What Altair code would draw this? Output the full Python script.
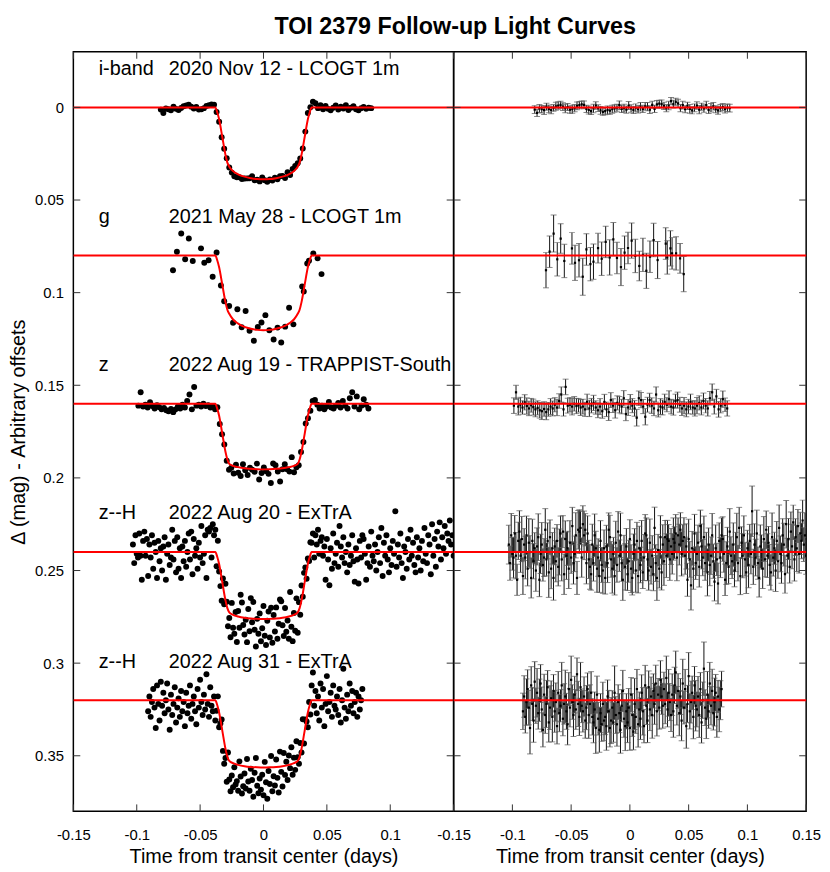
import altair as alt
import numpy as np
import pandas as pd

FONT = "Liberation Sans"

# ---------------- data ----------------
OFFSETS = [0.0, 0.08, 0.16, 0.24, 0.32]
BANDS = ["i-band", "g", "z", "z--H", "z--H"]
NIGHTS = ["2020 Nov 12 - LCOGT 1m", "2021 May 28 - LCOGT 1m",
          "2022 Aug 19 - TRAPPIST-South", "2022 Aug 20 - ExTrA", "2022 Aug 31 - ExTrA"]
X_TICKS = [-0.15, -0.1, -0.05, 0, 0.05, 0.1, 0.15]
Y_TICKS = [0, 0.05, 0.1, 0.15, 0.2, 0.25, 0.3, 0.35]

# transit model (days, depth in mag)
MODEL_T = [-0.15, -0.038, -0.0365, -0.035, -0.0325, -0.030, -0.0285, -0.027, -0.024, -0.020,
           -0.015, -0.010, -0.005, 0.0, 0.005, 0.010, 0.015, 0.020, 0.024, 0.027,
           0.0285, 0.030, 0.0325, 0.035, 0.0365, 0.038, 0.15]
MODEL_I = [0, 0, .0026, .0064, .0160, .0256, .0298, .0320, .0344, .0361, .0374, .0382, .0387, .0388,
           .0387, .0382, .0374, .0361, .0344, .0320, .0298, .0256, .0160, .0064, .0026, 0, 0]
MODEL_G = [0, 0, .0025, .0063, .0157, .0251, .0292, .0314, .0345, .0367, .0385, .0395, .0401, .0403,
           .0401, .0395, .0385, .0367, .0345, .0314, .0292, .0251, .0157, .0063, .0025, 0, 0]
MODEL_Z = [0, 0, .0026, .0065, .0162, .0259, .0301, .0324, .0335, .0342, .0348, .0351, .0353, .0354,
           .0353, .0351, .0348, .0342, .0335, .0324, .0301, .0259, .0162, .0065, .0026, 0, 0]
MODEL_A20 = [0, 0, .0026, .0065, .0163, .0261, .0303, .0326, .0339, .0348, .0355, .0359, .0361, .0362,
             .0361, .0359, .0355, .0348, .0339, .0326, .0303, .0261, .0163, .0065, .0026, 0, 0]
MODEL_A31 = [0, 0, .0026, .0066, .0164, .0262, .0305, .0328, .0340, .0349, .0356, .0360, .0362, .0363,
             .0362, .0360, .0356, .0349, .0340, .0328, .0305, .0262, .0164, .0066, .0026, 0, 0]

# times in 1e-3 d, residuals and errors in 1e-4 mag
I_T = [-81, -79, -77, -75, -73, -71, -69, -67, -65, -63,
       -61, -59, -57, -55, -53, -51, -49, -47, -45, -43,
       -41, -39, -37, -35, -33, -31, -29, -27, -25, -23,
       -21, -19, -17, -15, -13, -11, -9, -7, -5, -3,
       -1, 1, 3, 5, 7, 9, 11, 13, 15, 17,
       19, 21, 23, 25, 27, 29, 31, 33, 35, 37,
       39, 41, 43, 45, 47, 49, 51, 53, 55, 57,
       59, 61, 63, 65, 67, 69, 71, 73, 75, 77,
       79, 81, 83, 85]
I_R = [12, 30, 6, 10, 15, -4, 8, 14, 3, -6,
       -10, -14, -4, 6, -2, 12, 10, 4, -8, -12,
       -16, -14, 8, 14, 20, 6, -10, 4, 16, 24,
       20, 14, 18, 10, 6, 2, -12, 8, 4, 12,
       -10, 6, 14, 2, 10, -4, 8, -6, -4, 12,
       -14, 8, -16, -20, -18, -8, 4, -10, -34, -18,
       -30, -22, 4, -12, 10, -8, 8, 16, 2, -10,
       12, -4, 6, -12, 14, 2, -6, 10, 16, 4,
       -2, 8, 2, 4]
I_E = [21, 19, 22, 20, 23, 19, 21, 20, 18, 22,
       20, 19, 21, 23, 19, 20, 22, 19, 21, 20,
       19, 21, 20, 22, 19, 23, 20, 18, 21, 19,
       20, 22, 19, 21, 20, 19, 23, 20, 21, 19,
       22, 20, 19, 21, 20, 23, 19, 20, 22, 21,
       19, 20, 21, 19, 22, 20, 19, 23, 20, 21,
       19, 22, 20, 21, 19, 20, 23, 19, 21, 20,
       22, 19, 20, 21, 19, 23, 20, 19, 21, 20,
       19, 22, 20, 21]

G_T = [-71.4, -68.3, -64.9, -61.8, -58.9, -55.8, -49.3, -46.7, -43.3, -40.1,
       -37.0, -33.6, -31.0, -27.1, -24.0, -20.6, -17.2, -14.1, -11.0, -7.6,
       -4.5, -1.6, 1.5, 4.6, 8.0, 11.1, 14.0, 17.1, 20.2, 23.6,
       30.5, 31.8, 34.5, 35.9, 39.3, 42.7, 45.8]
G_R = [79, -21, -119, 20, -92, 29, -39, 39, 25, 114,
       -33, 46, 33, -40, 17, -74, 10, -88, 13, 62,
       -16, -41, -81, 2, 56, -4, 82, 6, -84, 24,
       -65, 10, -39, -12, -12, 15, 100]
G_E = [95, 85, 100, 90, 80, 90, 85, 95, 90, 100,
       85, 90, 95, 80, 90, 85, 95, 90, 85, 100,
       90, 85, 95, 90, 80, 90, 95, 85, 90, 100,
       85, 90, 95, 85, 90, 80, 95]

Z_T = [-98.7, -96.9, -95.0, -93.2, -91.4, -89.5, -87.7, -85.9, -84.0, -82.2,
       -80.4, -78.5, -76.7, -74.9, -73.0, -71.2, -69.4, -67.5, -65.7, -63.9,
       -62.0, -60.2, -58.4, -56.5, -54.7, -52.9, -51.0, -49.2, -47.4, -45.5,
       -43.7, -41.9, -40.0, -38.2, -36.4, -34.5, -32.7, -30.9, -29.0, -27.2,
       -25.4, -23.5, -21.7, -19.9, -18.0, -16.2, -14.4, -12.5, -10.7, -8.9,
       -7.0, -5.2, -3.4, -1.5, 0.3, 2.1, 4.0, 5.8, 7.6, 9.5,
       11.3, 13.1, 15.0, 16.8, 18.6, 20.5, 22.3, 24.1, 26.0, 27.8,
       29.6, 31.5, 33.3, 35.1, 37.0, 38.8, 40.6, 42.5, 44.3, 46.1,
       48.0, 49.8, 51.6, 53.5, 55.3, 57.1, 59.0, 60.8, 62.6, 64.5,
       66.3, 68.1, 70.0, 71.8, 73.6, 75.5, 77.3, 79.1, 81.0, 82.8]
Z_R = [10, -62, 15, 5, 20, -8, 12, 25, 8, 18,
       30, 22, 35, 40, 28, 45, 30, 15, 25, 5,
       20, -15, -50, 30, -91, 10, 5, 15, 0, 12,
       8, 20, 15, 30, -10, 25, 10, -5, 20, 35,
       15, 40, -10, 30, 45, -20, 10, 35, -5, 5,
       15, -30, 55, 20, -10, 10, 25, 75, -30, -20,
       15, 70, 5, -20, 10, 25, -50, 35, 15, 20,
       -10, 5, -25, 15, 20, -15, -20, 5, 25, 10,
       30, 15, -10, 20, 25, 10, -5, 20, -15, 10,
       25, -30, -62, 15, -40, 30, 10, -25, 5, 25]
Z_E = [42, 38, 45, 40, 36, 41, 44, 39, 37, 43,
       40, 38, 42, 45, 39, 41, 37, 43, 40, 38,
       44, 39, 41, 36, 42, 40, 38, 45, 39, 41,
       37, 43, 40, 38, 42, 44, 39, 41, 36, 40,
       43, 38, 41, 39, 45, 40, 37, 42, 38, 44,
       39, 41, 36, 43, 40, 38, 42, 45, 39, 41,
       38, 44, 40, 37, 42, 39, 41, 36, 43, 40,
       42, 38, 45, 39, 41, 37, 43, 40, 38, 44,
       40, 39, 42, 36, 41, 44, 38, 40, 43, 39,
       41, 37, 45, 40, 38, 42, 39, 44, 36, 41]

A20_T = [-103, -102, -101, -100, -99, -98, -97, -96, -95, -94,
         -93, -92, -91, -90, -89, -88, -87, -86, -85, -84,
         -83, -82, -81, -80, -79, -78, -77, -76, -75, -74,
         -73, -72, -71, -70, -69, -68, -67, -66, -65, -64,
         -63, -62, -61, -60, -59, -58, -57, -56, -55, -54,
         -53, -52, -51, -50, -49, -48, -47, -46, -45, -44,
         -43, -42, -41, -40, -39, -38, -37, -36, -35, -34,
         -33, -32, -31, -30, -29, -28, -27, -26, -25, -24,
         -23, -22, -21, -20, -19, -18, -17, -16, -15, -14,
         -13, -12, -11, -10, -9, -8, -7, -6, -5, -4,
         -3, -2, -1, 0, 1, 2, 3, 4, 5, 6,
         7, 8, 9, 10, 11, 12, 13, 14, 15, 16,
         17, 18, 19, 20, 21, 22, 23, 24, 25, 26,
         27, 28, 29, 30, 31, 32, 33, 34, 35, 36,
         37, 38, 39, 40, 41, 42, 43, 44, 45, 46,
         47, 48, 49, 50, 51, 52, 53, 54, 55, 56,
         57, 58, 59, 60, 61, 62, 63, 64, 65, 66,
         67, 68, 69, 70, 71, 72, 73, 74, 75, 76,
         77, 78, 79, 80, 81, 82, 83, 84, 85, 86,
         87, 88, 89, 90, 91, 92, 93, 94, 95, 96,
         97, 98, 99, 100, 101, 102, 103, 104, 105, 106,
         107, 108, 109, 110, 111, 112, 113, 114, 115, 116,
         117, 118, 119, 120, 121, 122, 123, 124, 125, 126,
         127, 128, 129, 130, 131, 132, 133, 134, 135, 136,
         137, 138, 139, 140, 141, 142, 143, 144, 145, 146,
         147, 148, 149, 150]
A20_R = [-40, 60, -90, 10, 30, -100, 20, 150, -60, -110,
         20, -70, 130, -40, 30, -90, 90, -50, 0, 140,
         -60, 50, -20, 100, -30, -80, 150, 10, -40, 70,
         30, -120, 40, -60, 110, -80, 90, -20, 140, -30,
         50, -60, 80, 0, -100, 40, -110, 120, -70, 20,
         -20, 90, -50, 30, -140, 60, 10, -90, 140, -120,
         -110, -130, 30, -150, -90, -120, 60, -100, 40, 80,
         120, -40, 60, -90, -20, 90, 30, 130, -60, 70,
         100, -20, 140, -30, 60, -120, -80, 40, 90, 10,
         130, -50, 70, -110, 20, -90, 60, 150, 0, 80,
         -30, 120, 50, -70, 90, 140, 10, -40, 100, -60,
         130, -20, 70, -60, 110, 30, -100, -90, 40, 100,
         -50, 80, 20, 120, -130, 60, 140, -10, 90, -80,
         110, -40, 50, -80, 20, -70, -60, 40, -30, 10,
         -70, -50, -100, 30, -90, -40, -120, 10, -60, -80,
         20, -30, 150, -70, 40, 180, -20, 90, -100, 60,
         10, -50, 80, -140, -30, 30, -80, 60, 0, 110,
         -40, 70, 20, -90, 50, 160, -20, 40, 170, -60,
         30, -90, -70, 10, 150, 60, -30, 80, -110, 20,
         50, -40, 100, 0, -80, 60, -130, 130, -50, 20,
         -90, 40, 110, -20, 70, -60, 10, -220, 80, -40,
         30, -100, 60, 140, -30, 0, 90, -70, 40, -120,
         20, -50, 70, 110, -80, 30, -20, 100, -60, 50,
         -130, 10, 60, -90, -40, 120, -150, 20, -70, 80,
         -110, -30, -160, 40, -80, -20, -140, 10, -100, -60,
         -170, -40, -90, 20]
A20_E = [105, 92, 118, 88, 110, 97, 125, 84, 101, 113,
         90, 122, 99, 86, 115, 104, 93, 130, 88, 108,
         117, 95, 84, 112, 100, 126, 91, 106, 119, 87,
         102, 114, 89, 97, 135, 93, 108, 85, 120, 99,
         111, 88, 103, 124, 94, 116, 86, 109, 98, 128,
         92, 107, 119, 85, 101, 113, 96, 122, 89, 104,
         118, 90, 106, 99, 131, 87, 112, 95, 103, 121,
         86, 110, 97, 115, 92, 127, 101, 88, 109, 94,
         123, 99, 87, 114, 105, 91, 118, 96, 132, 89,
         102, 116, 93, 108, 85, 120, 98, 111, 90, 125,
         97, 88, 113, 104, 129, 92, 107, 86, 117, 100,
         91, 119, 96, 110, 87, 124, 102, 94, 115, 106,
         128, 93, 108, 89, 112, 99, 121, 85, 104, 116,
         95, 107, 130, 90, 118, 101, 88, 113, 97, 109,
         114, 86, 102, 125, 94, 110, 92, 119, 87, 105,
         100, 122, 89, 107, 96, 133, 91, 111, 103, 88,
         117, 95, 109, 86, 121, 98, 114, 93, 106, 127,
         89, 112, 101, 118, 92, 104, 126, 87, 110, 97,
         108, 94, 120, 99, 85, 115, 103, 91, 124, 102,
         93, 117, 88, 106, 129, 96, 111, 100, 86, 119,
         105, 90, 114, 97, 123, 89, 108, 136, 95, 112,
         99, 126, 87, 103, 116, 92, 107, 121, 94, 101,
         118, 88, 110, 95, 131, 100, 86, 113, 105, 92,
         124, 97, 109, 90, 115, 102, 128, 94, 111, 87,
         106, 120, 93, 117, 99, 125, 89, 104, 114, 96,
         110, 91, 122, 100]

A31_T = [-91, -90, -89, -88, -87, -86, -85, -84, -83, -82,
         -81, -80, -79, -78, -77, -76, -75, -74, -73, -72,
         -71, -70, -69, -68, -67, -66, -65, -64, -63, -62,
         -61, -60, -59, -58, -57, -56, -55, -54, -53, -52,
         -51, -50, -49, -48, -47, -46, -45, -44, -43, -42,
         -41, -40, -39, -38, -37, -36, -35, -34, -33, -32,
         -31, -30, -29, -28, -27, -26, -25, -24, -23, -22,
         -21, -20, -19, -18, -17, -16, -15, -14, -13, -12,
         -11, -10, -9, -8, -7, -6, -5, -4, -3, -2,
         -1, 0, 1, 2, 3, 4, 5, 6, 7, 8,
         9, 10, 11, 12, 13, 14, 15, 16, 17, 18,
         19, 20, 21, 22, 23, 24, 25, 26, 27, 28,
         29, 30, 31, 32, 33, 34, 35, 36, 37, 38,
         39, 40, 41, 42, 43, 44, 45, 46, 47, 48,
         49, 50, 51, 52, 53, 54, 55, 56, 57, 58,
         59, 60, 61, 62, 63, 64, 65, 66, 67, 68,
         69, 70, 71, 72, 73, 74, 75, 76, 77, 78]
A31_R = [60, -20, 90, 10, -60, 40, 150, -80, 20, 110,
         -100, 30, -40, 70, 0, -90, 50, 160, -30, 80,
         20, -70, 120, 40, -10, 90, -50, 60, 10, 140,
         -40, 70, 30, -80, 100, 20, -20, 60, 130, -60,
         40, -110, 10, 80, -30, 50, -140, 20, 90, -70,
         30, 60, -20, 110, 40, -60, 80, 20, -40, 90,
         120, 50, 150, -30, 100, 160, 70, 130, 20, 110,
         90, 140, -20, 60, 150, 110, 40, 120, -40, 80,
         130, 10, 70, 160, 30, -50, 100, 140, 60, 120,
         40, 150, -30, 80, 170, 20, 90, -60, 130, 50,
         100, -40, 60, 140, -80, 30, 110, -70, 50, -20,
         80, -50, 20, -90, 60, -30, 40, -110, -20, 30,
         -60, 20, -120, 50, -40, 10, 80, -30, 60, -80,
         -150, 30, -50, 70, -20, 110, -90, 40, -60, 140,
         20, -130, 60, 10, -40, 90, -80, 30, 50, -20,
         80, -60, 120, 0, -170, 40, 100, -30, 60, -90,
         30, -50, 70, 10, -40, 90, -20, 50, 0, -60]
A31_E = [98, 112, 87, 125, 104, 93, 140, 101, 89, 117,
         108, 95, 131, 86, 114, 102, 121, 92, 110, 99,
         127, 90, 106, 118, 94, 135, 88, 113, 103, 96,
         115, 100, 87, 124, 92, 109, 142, 97, 111, 89,
         104, 128, 93, 116, 99, 107, 88, 122, 101, 134,
         91, 112, 106, 95, 119, 87, 126, 103, 114, 98,
         110, 94, 137, 100, 88, 121, 105, 92, 117, 108,
         96, 130, 89, 113, 102, 124, 91, 107, 145, 99,
         118, 93, 105, 126, 87, 111, 100, 132, 95, 109,
         103, 120, 92, 115, 98, 138, 89, 106, 123, 94,
         112, 97, 128, 90, 108, 101, 119, 88, 114, 105,
         125, 92, 110, 99, 133, 87, 116, 103, 96, 121,
         91, 107, 118, 94, 126, 100, 89, 112, 140, 98,
         115, 104, 93, 122, 97, 109, 131, 88, 106, 119,
         100, 127, 95, 113, 90, 118, 102, 136, 94, 108,
         121, 89, 111, 98, 144, 96, 107, 125, 92, 114,
         103, 117, 91, 129, 99, 110, 87, 120, 105, 96]

SETS = [(I_T, I_R, I_E, MODEL_I), (G_T, G_R, G_E, MODEL_G), (Z_T, Z_R, Z_E, MODEL_Z),
        (A20_T, A20_R, A20_E, MODEL_A20), (A31_T, A31_R, A31_E, MODEL_A31)]

# ---------------- tables ----------------
pts, mods = [], []
for k, (tt, rr, ee, md) in enumerate(SETS):
    n = min(len(tt), len(rr), len(ee))
    t = np.array(tt[:n], dtype=float) / 1000.0
    r = np.array(rr[:n], dtype=float) / 1e4
    e = np.array(ee[:n], dtype=float) / 1e4
    m = np.interp(t, MODEL_T, md)
    off = OFFSETS[k]
    for i in range(n):
        pts.append({"set": k, "t": t[i], "mag": off + m[i] + r[i],
                    "res": off + r[i], "lo": off + r[i] - e[i], "hi": off + r[i] + e[i]})
    for tm, dm in zip(MODEL_T, md):
        mods.append({"set": k, "t": tm, "mag": off + dm})
pts = pd.DataFrame(pts)
mods = pd.DataFrame(mods)
labels = pd.DataFrame({"off": OFFSETS, "band": BANDS, "night": NIGHTS})
xt = pd.DataFrame({"v": X_TICKS})
yt = pd.DataFrame({"v": Y_TICKS})

# ---------------- encodings ----------------
W1, W2, H = 384, 356, 767
TK = 7

def xaxis(hide_last):
    expr = "datum.value >= 0.149 ? '' : '' + datum.value" if hide_last else "'' + datum.value"
    return alt.Axis(values=X_TICKS, labelExpr=expr, ticks=False, domain=False,
                    grid=False, labelFontSize=15, labelFont=FONT, labelColor="black",
                    labelPadding=16, labelOverlap=False, labelFlush=False,
                    title="Time from transit center (days)", titleFont=FONT, titleFontSize=20,
                    titleFontWeight="normal", titleColor="black", titlePadding=5)

YAX_L = alt.Axis(values=Y_TICKS, labelExpr="'' + datum.value", ticks=False, domain=False,
                 grid=False, labelFontSize=15, labelFont=FONT, labelColor="black",
                 labelPadding=10, labelOverlap=False,
                 title="Δ (mag) - Arbitrary offsets", titleFont=FONT, titleFontSize=20,
                 titleFontWeight="normal", titleColor="black", titlePadding=6)

def make_X(hide_last):
    def X(f):
        return alt.X(f, type="quantitative",
                     scale=alt.Scale(domain=[-0.15, 0.15], nice=False, zero=False),
                     axis=xaxis(hide_last))
    return X

def Y(f, axis):
    return alt.Y(f, type="quantitative",
                 scale=alt.Scale(domain=[-0.03, 0.38], reverse=True, nice=False, zero=False),
                 axis=axis)

def tick_layers(X, yax, w):
    b = alt.Chart(xt).mark_rule(color="#333", strokeWidth=1).encode(
        x=X("v"), y=alt.value(H), y2=alt.value(H - TK))
    t = alt.Chart(xt).mark_rule(color="#333", strokeWidth=1).encode(
        x=X("v"), y=alt.value(0), y2=alt.value(TK))
    l = alt.Chart(yt).mark_rule(color="#333", strokeWidth=1).encode(
        y=Y("v", yax), x=alt.value(0), x2=alt.value(TK))
    r = alt.Chart(yt).mark_rule(color="#333", strokeWidth=1).encode(
        y=Y("v", yax), x=alt.value(w - TK), x2=alt.value(w))
    return [b, t, l, r]

# ---------------- left panel ----------------
XL = make_X(True)
dots = alt.Chart(pts).mark_circle(size=36, color="black", opacity=1, clip=True).encode(
    x=XL("t"), y=Y("mag", YAX_L))
model = alt.Chart(mods).mark_line(color="#ff0000", strokeWidth=2, interpolate="monotone",
                                  clip=True).encode(
    x=XL("t"), y=Y("mag", YAX_L), detail="set:N")
band_txt = alt.Chart(labels).mark_text(align="left", baseline="alphabetic", fontSize=20,
                                       font=FONT, color="black", dy=-33).encode(
    x=alt.value(25.6), y=Y("off", YAX_L), text="band:N")
night_txt = alt.Chart(labels).mark_text(align="left", baseline="alphabetic", fontSize=20,
                                        font=FONT, color="black", dy=-33).encode(
    x=alt.value(96.3), y=Y("off", YAX_L), text="night:N")

left = alt.layer(dots, model, band_txt, night_txt, *tick_layers(XL, YAX_L, W1)).properties(
    width=W1, height=H)

# ---------------- right panel ----------------
XR = make_X(False)
bars = alt.Chart(pts).mark_rule(color="#111111", strokeWidth=1, clip=True).encode(
    x=XR("t"), y=Y("lo", None), y2="hi")
cap_lo = alt.Chart(pts).mark_tick(orient="horizontal", size=6, thickness=1, color="#555555",
                                  clip=True).encode(x=XR("t"), y=Y("lo", None))
cap_hi = alt.Chart(pts).mark_tick(orient="horizontal", size=6, thickness=1, color="#555555",
                                  clip=True).encode(x=XR("t"), y=Y("hi", None))
rdots = alt.Chart(pts).mark_square(size=5, color="black", opacity=1, clip=True).encode(
    x=XR("t"), y=Y("res", None))
zero_lines = alt.Chart(labels).mark_rule(color="#ff0000", strokeWidth=2).encode(
    y=Y("off", None))

right = alt.layer(bars, cap_lo, cap_hi, rdots, zero_lines, *tick_layers(XR, None, W2)).properties(
    width=W2, height=H)

chart = alt.hconcat(left, right, spacing=0, bounds="flush").properties(
    title=alt.TitleParams("TOI 2379 Follow-up Light Curves", font=FONT, fontSize=23.5,
                          fontWeight="bold", color="black", anchor="start", frame="bounds",
                          offset=12, dx=269),
    padding={"left": 0, "top": 3, "right": 0, "bottom": 0},
).configure(font=FONT).configure_view(stroke="black", strokeWidth=1.5)

chart.save("out.html", embed_options={"renderer": "svg", "actions": False})
